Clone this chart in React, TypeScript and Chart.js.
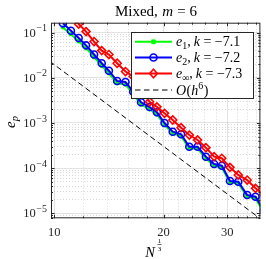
import { useEffect, useRef } from "react";
import { Chart, registerables } from "chart.js";

Chart.register(...registerables);

// N^(1/3) values (x)
const nCubeRoot = [10.56, 11.11, 11.67, 12.23, 12.87, 13.51, 14.14, 14.9, 15.71, 16.5, 17.34, 18.31, 19.18, 20.13, 21.21, 22.36, 23.56, 24.83, 26.18, 27.58, 28.95, 30.5, 32.15, 34.02, 35.87, 37.8];
// e_1 errors (green)
const e1Err = [0.13, 0.092, 0.064, 0.045, 0.0285, 0.0183, 0.0125, 0.0075, 0.0071, 0.0043, 0.00255, 0.00201, 0.00154, 0.0009, 0.00058, 0.00051, 0.00027, 0.000271, 0.000163, 0.000113, 0.000104, 4.75e-5, 4.6e-5, 2.33e-5, 2.15e-5, 1.03e-5];
// e_2 errors (blue)
const e2Err = [0.1598, 0.1096, 0.0755, 0.0521, 0.0326, 0.02094, 0.01429, 0.00845, 0.00803, 0.0049, 0.002857, 0.002249, 0.001717, 0.000996, 0.000639, 0.00056, 0.000297, 0.000297, 0.0001786, 0.0001233, 0.000113, 5.19e-5, 5.0e-5, 2.54e-5, 2.33e-5, 1.15e-5];
// e_inf errors (red)
const eInfErr = [0.348, 0.232, 0.154, 0.105, 0.0632, 0.0398, 0.0326, 0.0209, 0.0137, 0.01064, 0.00535, 0.00294, 0.00227, 0.00163, 0.00116, 0.000783, 0.00054, 0.000419, 0.000283, 0.000179, 0.000165, 0.000104, 7.04e-5, 5.45e-5, 3.57e-5, 2.6e-5];
// O(h^6) reference line end points
const refX = [9.7, 38];
const refY = [0.0233, 6.45e-6];

const xMajorTicks = [10, 20, 30];
const xMinorTicks = [12, 14, 16, 18, 22, 24, 26, 28, 32, 34, 36];
const yDecadeExps = [-5, -4, -3, -2, -1];
const slopes = ["-7.1", "-7.2", "-7.3"];

const X_MIN = 9.79;
const X_MAX = 37.0;
const Y_MIN = 7.75e-6;
const Y_MAX = 0.165;

const SERIF = '"Liberation Serif", "DejaVu Serif", serif';
const R = (s: number) => `${s}px ${SERIF}`;
const I = (s: number) => `italic ${s}px ${SERIF}`;

type Part = { t: string; f: string; dy?: number; pad?: number };

function partsWidth(ctx: CanvasRenderingContext2D, parts: Part[]) {
  let w = 0;
  for (const p of parts) {
    ctx.font = p.f;
    w += (p.pad || 0) + ctx.measureText(p.t).width;
  }
  return w;
}

function drawParts(ctx: CanvasRenderingContext2D, parts: Part[], x: number, y: number, align: "left" | "center" | "right") {
  const w = partsWidth(ctx, parts);
  let cx = align === "left" ? x : align === "center" ? x - w / 2 : x - w;
  ctx.textAlign = "left";
  ctx.textBaseline = "alphabetic";
  for (const p of parts) {
    cx += p.pad || 0;
    ctx.font = p.f;
    ctx.fillText(p.t, cx, y + (p.dy || 0));
    cx += ctx.measureText(p.t).width;
  }
}

function yTickValues() {
  const v: number[] = [];
  for (let e = -6; e <= -1; e++) {
    for (let k = 1; k <= 9; k++) {
      const val = k * Math.pow(10, e);
      if (val >= Y_MIN && val <= Y_MAX) v.push(val);
    }
  }
  return v;
}

function isYMajor(v: number) {
  const l = Math.log10(v);
  return Math.abs(l - Math.round(l)) < 1e-6;
}

const decorPlugin = {
  id: "decor",
  afterDraw(chart: any) {
    const ctx: CanvasRenderingContext2D = chart.ctx;
    const { left, right, top, bottom } = chart.chartArea;
    const xs = chart.scales.x;
    const ys = chart.scales.y;
    ctx.save();

    // legend
    const lx0 = 131.5, ly0 = 32.5, lx1 = 253.5, ly1 = 98.5;
    ctx.fillStyle = "#ffffff";
    ctx.fillRect(lx0, ly0, lx1 - lx0, ly1 - ly0);
    ctx.strokeStyle = "#262626";
    ctx.lineWidth = 1;
    ctx.strokeRect(lx0, ly0, lx1 - lx0, ly1 - ly0);
    const rows = [41.7, 57.5, 73.5, 90];
    const colors = ["#00ff00", "#0000ff", "#ff0000"];
    const subs = ["1", "2", "\u221e"];
    const sx0 = 135, sx1 = 172, mx = 153.5, tx = 176;
    for (let i = 0; i < 3; i++) {
      const y = rows[i];
      ctx.strokeStyle = colors[i];
      ctx.lineWidth = 2;
      ctx.setLineDash([]);
      ctx.beginPath();
      ctx.moveTo(sx0, y);
      ctx.lineTo(sx1, y);
      ctx.stroke();
      ctx.lineWidth = 1.6;
      ctx.beginPath();
      if (i === 0) {
        ctx.moveTo(mx - 2, y - 2); ctx.lineTo(mx + 2, y + 2);
        ctx.moveTo(mx - 2, y + 2); ctx.lineTo(mx + 2, y - 2);
        ctx.moveTo(mx, y - 2.5); ctx.lineTo(mx, y + 2.5);
      } else if (i === 1) {
        ctx.arc(mx, y, 3.5, 0, Math.PI * 2);
      } else {
        ctx.moveTo(mx, y - 4.2); ctx.lineTo(mx + 3.8, y); ctx.lineTo(mx, y + 4.2); ctx.lineTo(mx - 3.8, y); ctx.closePath();
      }
      ctx.stroke();
      ctx.fillStyle = "#000";
      drawParts(ctx, [
        { t: "e", f: I(14) },
        { t: subs[i], f: R(10), dy: 3 },
        { t: ",", f: R(14) },
        { t: "k", f: I(14), pad: 3 },
        { t: "=", f: R(14), pad: 3.5 },
        { t: "\u2212" + slopes[i].replace("-", ""), f: R(14), pad: 3.5 },
      ], tx, y + 4.5, "left");
    }
    {
      const y = rows[3];
      ctx.strokeStyle = "#000";
      ctx.lineWidth = 1;
      ctx.setLineDash([5.5, 3.5]);
      ctx.beginPath();
      ctx.moveTo(sx0, y);
      ctx.lineTo(sx1, y);
      ctx.stroke();
      ctx.setLineDash([]);
      ctx.fillStyle = "#000";
      drawParts(ctx, [
        { t: "O", f: I(14) },
        { t: "(", f: R(14), pad: 0.5 },
        { t: "h", f: I(14) },
        { t: "6", f: R(10), dy: -6 },
        { t: ")", f: R(14), pad: 0.5 },
      ], tx, y + 4.5, "left");
    }

    // axes box
    ctx.strokeStyle = "#262626";
    ctx.lineWidth = 1;
    ctx.strokeRect(left + 0.5, top + 0.5, right - left - 1, bottom - top - 1);
    // tick marks inward
    ctx.beginPath();
    for (const v of [...xMajorTicks, ...xMinorTicks]) {
      const px = Math.round(xs.getPixelForValue(v)) + 0.5;
      const len = xMajorTicks.includes(v) ? 3.5 : 2;
      ctx.moveTo(px, bottom); ctx.lineTo(px, bottom - len);
      ctx.moveTo(px, top); ctx.lineTo(px, top + len);
    }
    for (const v of yTickValues()) {
      const py = Math.round(ys.getPixelForValue(v)) + 0.5;
      const len = isYMajor(v) ? 3.5 : 2;
      ctx.moveTo(left, py); ctx.lineTo(left + len, py);
      ctx.moveTo(right, py); ctx.lineTo(right - len, py);
    }
    ctx.stroke();

    ctx.fillStyle = "#262626";
    // y tick labels
    for (const e of yDecadeExps) {
      const py = ys.getPixelForValue(Math.pow(10, e));
      drawParts(ctx, [
        { t: "10", f: R(12.5) },
        { t: "\u2212" + Math.abs(e), f: R(10), dy: -5.5, pad: 0.5 },
      ], left - 4, py + 4.2, "right");
    }
    // x tick labels
    for (const v of xMajorTicks) {
      const px = xs.getPixelForValue(v);
      drawParts(ctx, [{ t: String(v), f: R(12.5) }], px, 236, "center");
    }
    // x axis title N^(1/3)
    ctx.fillStyle = "#000";
    drawParts(ctx, [{ t: "N", f: I(14.5) }], 150, 256.5, "center");
    ctx.font = R(7);
    ctx.textAlign = "center";
    ctx.fillText("1", 159.5, 243);
    ctx.fillText("3", 159.5, 250.5);
    ctx.strokeStyle = "#000";
    ctx.lineWidth = 0.6;
    ctx.beginPath();
    ctx.moveTo(157.5, 244.5); ctx.lineTo(161.5, 244.5);
    ctx.stroke();

    // y axis title e_p
    ctx.save();
    ctx.translate(15, 122);
    ctx.rotate(-Math.PI / 2);
    drawParts(ctx, [
      { t: "e", f: I(15) },
      { t: "p", f: I(10.5), dy: 3 },
    ], 0, 0, "center");
    ctx.restore();

    // title
    ctx.fillStyle = "#000";
    drawParts(ctx, [
      { t: "Mixed,", f: R(15) },
      { t: "m", f: I(15), pad: 4.5 },
      { t: "=", f: R(15), pad: 4 },
      { t: "6", f: R(15), pad: 4 },
    ], 156, 16, "center");

    ctx.restore();
  },
};

export default function App() {
  const ref = useRef<HTMLCanvasElement | null>(null);
  useEffect(() => {
    if (!ref.current) return;
    const pts = (ys: number[]) => nCubeRoot.map((x, i) => ({ x, y: ys[i] }));
    const chart = new Chart(ref.current, {
      type: "line",
      data: {
        datasets: [
          {
            label: "O(h^6)",
            data: refX.map((x, i) => ({ x, y: refY[i] })),
            borderColor: "#000",
            borderWidth: 1,
            borderDash: [5.5, 3.5],
            pointRadius: 0,
            order: 0,
          },
          {
            label: "e_inf",
            data: pts(eInfErr),
            borderColor: "#ff0000",
            borderWidth: 2,
            pointStyle: "rectRot",
            pointRadius: 4,
            pointBorderWidth: 1.6,
            pointBackgroundColor: "rgba(0,0,0,0)",
            pointBorderColor: "#ff0000",
            order: 1,
          },
          {
            label: "e_2",
            data: pts(e2Err),
            borderColor: "#0000ff",
            borderWidth: 2,
            pointStyle: "circle",
            pointRadius: 3.5,
            pointBorderWidth: 1.6,
            pointBackgroundColor: "rgba(0,0,0,0)",
            pointBorderColor: "#0000ff",
            order: 2,
          },
          {
            label: "e_1",
            data: pts(e1Err),
            borderColor: "#00ff00",
            borderWidth: 2,
            pointStyle: "star",
            pointRadius: 2.2,
            pointBorderWidth: 1.2,
            pointBackgroundColor: "rgba(0,0,0,0)",
            pointBorderColor: "#00ff00",
            order: 3,
          },
        ],
      },
      options: {
        responsive: false,
        animation: false,
        events: [],
        layout: { padding: { left: 51, right: 4.3, top: 22.7, bottom: 40.7 } },
        plugins: { legend: { display: false }, tooltip: { enabled: false }, title: { display: false } },
        elements: { line: { tension: 0 } },
        scales: {
          x: {
            type: "logarithmic",
            min: X_MIN,
            max: X_MAX,
            afterBuildTicks: (s: any) => {
              s.ticks = [...xMajorTicks, ...xMinorTicks].sort((a, b) => a - b).map((v) => ({ value: v, major: xMajorTicks.includes(v) }));
            },
            ticks: { display: false },
            grid: {
              drawTicks: false,
              lineWidth: 0.8,
              color: (c: any) => (c.tick && c.tick.major ? "rgba(0,0,0,0.14)" : "rgba(0,0,0,0.2)"),
            },
            border: { display: false, dash: (c: any) => (c.tick && c.tick.major ? [] : [1, 2]) },
          },
          y: {
            type: "logarithmic",
            min: Y_MIN,
            max: Y_MAX,
            afterBuildTicks: (s: any) => {
              s.ticks = yTickValues().map((v) => ({ value: v, major: isYMajor(v) }));
            },
            ticks: { display: false },
            grid: {
              drawTicks: false,
              lineWidth: 0.8,
              color: (c: any) => (c.tick && c.tick.major ? "rgba(0,0,0,0.14)" : "rgba(0,0,0,0.2)"),
            },
            border: { display: false, dash: (c: any) => (c.tick && c.tick.major ? [] : [1, 2]) },
          },
        },
      } as any,
      plugins: [decorPlugin],
    });
    return () => chart.destroy();
  }, []);
  return (
    <div style={{ position: "fixed", left: 0, top: 0, width: 266, height: 259, background: "#fff" }}>
      <canvas ref={ref} width={266} height={259} style={{ width: 266, height: 259, display: "block" }} />
    </div>
  );
}
